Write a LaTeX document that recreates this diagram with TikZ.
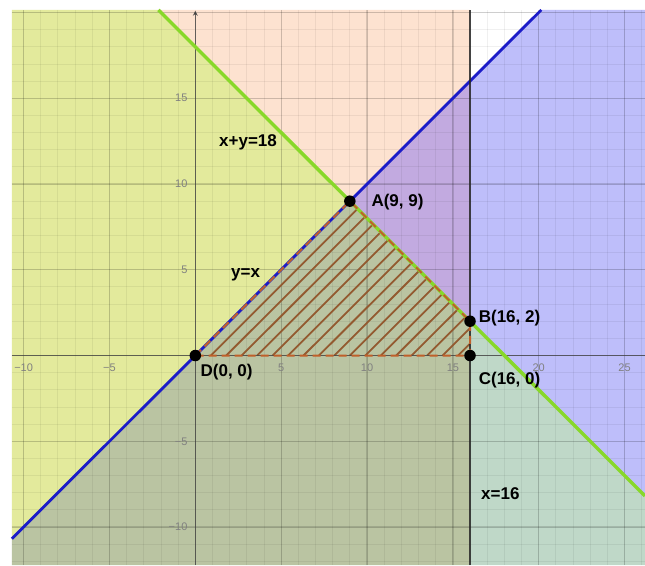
\documentclass[tikz,border=0pt]{standalone}
\usepackage{fontspec}
\setmainfont{Liberation Sans}
\usetikzlibrary{arrows.meta,calc}
\definecolor{cY}{HTML}{E3EA9C}
\definecolor{cP}{HTML}{FDE2D0}
\definecolor{cB}{HTML}{BEBEFA}
\definecolor{cM}{HTML}{C2AAE0}
\definecolor{cO}{HTML}{BAC4A2}
\definecolor{cT}{HTML}{BFD8C8}
\definecolor{gline}{HTML}{88D82A}
\definecolor{bline}{HTML}{1C1CC8}
\definecolor{hatchc}{HTML}{935A30}
\definecolor{edgec}{HTML}{C0602A}
\begin{document}
\begin{tikzpicture}[x=17.17pt,y=17.15pt,
  lbl/.style={font=\bfseries\fontsize{17}{20}\selectfont, inner sep=0pt, anchor=west},
  ticklbl/.style={font=\fontsize{11}{13}\selectfont, text=black!50, inner sep=0pt},
  dot/.style={circle, fill=black, draw=none, inner sep=0pt, minimum size=11.5pt},
  minorgrid/.style={draw=black, draw opacity=0.06, line width=0.9pt},
  majorgrid/.style={draw=black, draw opacity=0.14, line width=1.3pt},
  axisline/.style={draw=black!75, draw opacity=0.8, line width=1.5pt},
  greenln/.style={draw=gline, line width=3.4pt},
  blueln/.style={draw=bline, line width=2.8pt},
  vertln/.style={draw=black!85, draw opacity=0.85, line width=2.2pt},
  hatchln/.style={draw=hatchc, line width=1.8pt},
  hatchedge/.style={draw=edgec, line width=2pt, dash pattern=on 8pt off 5pt}]
\useasboundingbox[fill=white] (-11.375,-12.22) rectangle (26.19,20.73);
% region fills
\fill[cY] (-10.68,20.15) -- (-2.15,20.15) -- (9,9) -- (-10.68,-10.68) -- cycle;
\fill[cP] (-2.15,20.15) -- (16,20.15) -- (16,16) -- (9,9) -- cycle;
\fill[cM] (9,9) -- (16,16) -- (16,2) -- cycle;
\fill[cB] (16,16) -- (20.15,20.15) -- (26.19,20.15) -- (26.19,-8.19) -- (16,2) -- cycle;
\fill[cT] (16,2) -- (26.19,-8.19) -- (26.19,-12.22) -- (16,-12.22) -- cycle;
\fill[cO] (-10.68,-10.68) -- (9,9) -- (16,2) -- (16,-12.22) -- (-10.68,-12.22) -- cycle;
% grid
\begin{scope}
\clip (-10.68,-12.22) rectangle (26.19,20.15);
\foreach \x in {-10,...,26} \draw[minorgrid] (\x,-12.22) -- (\x,20.15);
\foreach \y in {-12,...,20} \draw[minorgrid] (-10.68,\y) -- (26.19,\y);
\foreach \x in {-10,-5,5,10,15,20,25} \draw[majorgrid] (\x,-12.22) -- (\x,20.15);
\foreach \y in {-10,-5,5,10,15,20} \draw[majorgrid] (-10.68,\y) -- (26.19,\y);
\end{scope}
% hatching of feasible region
\begin{scope}
\clip (0,0) -- (9,9) -- (16,2) -- (16,0) -- cycle;
\foreach \c in {0.9,1.8,...,16.2} \draw[hatchln] (\c,0) -- ++(10,10);
\end{scope}
% axes
\coordinate (xl) at (-10.68,0);
\coordinate (xr) at (26.19,0);
\coordinate (yb) at (0,-12.22);
\coordinate (yt) at (0,20.1);
\draw[axisline] (xl) -- (xr);
\draw[axisline, -{Stealth[length=5pt,width=5pt]}] (yb) -- (yt);
% tick labels
\node[ticklbl] (txm10) at (-10,-0.73) {−10};
\node[ticklbl] (txm5) at (-5,-0.73) {−5};
\node[ticklbl] (tx5) at (5,-0.73) {5};
\node[ticklbl] (tx10) at (10,-0.73) {10};
\node[ticklbl] (tx15) at (15,-0.73) {15};
\node[ticklbl] (tx20) at (20,-0.73) {20};
\node[ticklbl] (tx25) at (25,-0.73) {25};
\node[ticklbl, anchor=east] (tym10) at (-0.45,-10) {−10};
\node[ticklbl, anchor=east] (tym5) at (-0.45,-5) {−5};
\node[ticklbl, anchor=east] (ty5) at (-0.45,5) {5};
\node[ticklbl, anchor=east] (ty10) at (-0.45,10) {10};
\node[ticklbl, anchor=east] (ty15) at (-0.45,15) {15};
% lines
\coordinate (gT) at (-2.15,20.15);
\coordinate (gR) at (26.19,-8.19);
\coordinate (bL) at (-10.68,-10.68);
\coordinate (bT) at (20.15,20.15);
\coordinate (vB) at (16,-12.22);
\coordinate (vT) at (16,20.15);
\draw[greenln] (gT) -- (gR);
\draw[blueln] (bL) -- (bT);
\draw[vertln] (vB) -- (vT);
% feasible region edge
\coordinate (pD) at (0,0);
\coordinate (pA) at (9,9);
\coordinate (pB) at (16,2);
\coordinate (pC) at (16,0);
\draw[hatchedge] (pD) -- (pA) -- (pB) -- (pC) -- cycle;
% points
\node[dot] (A) at (pA) {};
\node[dot] (B) at (pB) {};
\node[dot] (C) at (pC) {};
\node[dot] (D) at (pD) {};
% labels
\node[lbl] (lA) at (10.25,8.97) {A(9, 9)};
\node[lbl] (lB) at (16.5,2.17) {B(16, 2)};
\node[lbl] (lC) at (16.5,-1.43) {C(16, 0)};
\node[lbl] (lD) at (0.3,-0.94) {D(0, 0)};
\node[lbl] (l1) at (1.38,12.41) {x+y=18};
\node[lbl] (l2) at (2.08,4.69) {y=x};
\node[lbl] (l3) at (16.64,-8.08) {x=16};
\end{tikzpicture}
\end{document}
